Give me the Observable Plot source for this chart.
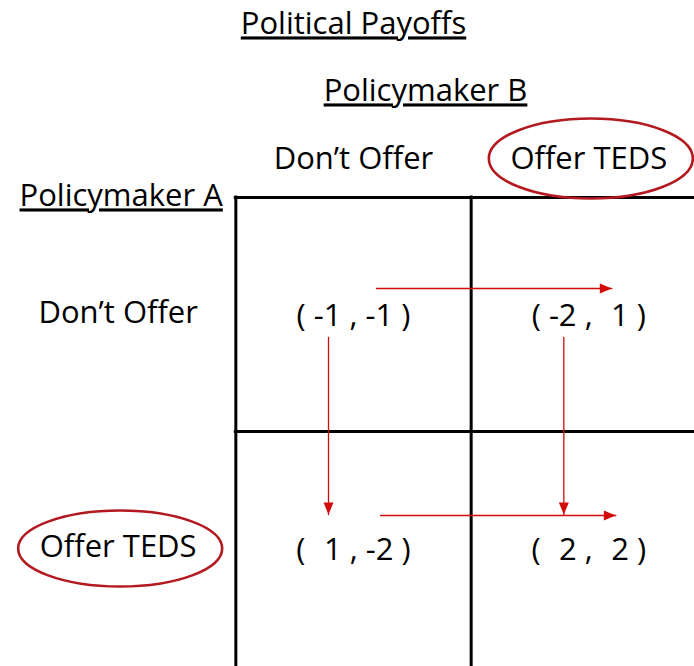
<!DOCTYPE html>
<html>
<head>
<meta charset="utf-8">
<script src="https://cdn.jsdelivr.net/npm/d3@7"></script>
<script src="https://cdn.jsdelivr.net/npm/@observablehq/plot@0.6"></script>
<style>
  html, body { margin: 0; padding: 0; background: #fff; }
</style>
</head>
<body>
<div id="chart"></div>
<script>
// ---- data ----
const title = "Political Payoffs";
const playerA = "Policymaker A";          // rows
const playerB = "Policymaker B";          // columns
const strategies = ["Don’t Offer", "Offer TEDS"];
// payoffs[row = A's strategy][col = B's strategy]
const payoffA = [[-1, -2], [1, 2]];
const payoffB = [[-1, 1], [-2, 2]];
const highlighted = ["Offer TEDS"];       // dominant strategy for both players

// ---- derived tables ----
const cells = [];
strategies.forEach((_, r) => strategies.forEach((_, c) =>
  cells.push({row: r, col: c, a: payoffA[r][c], b: payoffB[r][c]})));
const fmt = n => n < 0 ? "-" + Math.abs(n) : "\u2004" + n;

// best-response arrows: B moves horizontally within a row, A vertically within a column
const hArrows = strategies.map((_, r) => {
  const from = payoffB[r][0] < payoffB[r][1] ? 0 : 1;
  return {row: r, from, to: 1 - from};
});
const vArrows = strategies.map((_, c) => {
  const from = payoffA[0][c] < payoffA[1][c] ? 0 : 1;
  return {col: c, from, to: 1 - from};
});
const hi = highlighted.map(s => strategies.indexOf(s));

// ---- custom symbols ----
const ellipse = (rx, ry) => ({
  draw(ctx) {
    const k = 0.5522848, kx = rx * k, ky = ry * k;
    ctx.moveTo(rx, 0);
    ctx.bezierCurveTo(rx, ky, kx, ry, 0, ry);
    ctx.bezierCurveTo(-kx, ry, -rx, ky, -rx, 0);
    ctx.bezierCurveTo(-rx, -ky, -kx, -ry, 0, -ry);
    ctx.bezierCurveTo(kx, -ry, rx, -ky, rx, 0);
    ctx.closePath();
  }
});
const head = {
  draw(ctx) { ctx.moveTo(0, 0); ctx.lineTo(-12, -5); ctx.lineTo(-12, 5); ctx.closePath(); }
};

const red = "#d10a0a";
const ring = "#b3191e";
const font = "Open Sans";
const fs = 31;
const bounds = d3.range(1, strategies.length + 1);
const hDy = [-26, -33], hDx = [23, 27];

const marks = [
  // grid
  Plot.ruleX(bounds, {x: d => d, y1: 1, y2: 3.3, stroke: "black", strokeWidth: 3, strokeLinecap: "square"}),
  Plot.ruleY(bounds, {y: d => d, x1: 1, x2: 3.3, stroke: "black", strokeWidth: 3, strokeLinecap: "square"}),
  // headings
  Plot.text([title], {frameAnchor: "top", lineAnchor: "middle", dx: 6, dy: 24, text: d => d, fontSize: fs}),
  Plot.text([playerB], {frameAnchor: "top", lineAnchor: "middle", dx: 78, dy: 91, text: d => d, fontSize: fs}),
  Plot.text([playerA], {x: 0.5, y: 1, dx: 3, dy: -1, text: d => d, fontSize: fs}),
  // strategy labels
  Plot.text(strategies, {x: (d, i) => i + 1.5, y: 1, dy: -38, text: d => d, fontSize: fs}),
  Plot.text(strategies, {x: 0.5, y: (d, i) => i + 1.5, dy: -1, text: d => d, fontSize: fs}),
  // highlight rings
  Plot.dot(hi, {x: d => d + 1.5, y: 1, dx: 2, dy: -39, symbol: ellipse(102, 40), r: 5, fill: "none", stroke: ring, strokeWidth: 2.6}),
  Plot.dot(hi, {x: 0.5, y: d => d + 1.5, dx: 2, dy: 0, symbol: ellipse(102, 38), r: 5, fill: "none", stroke: ring, strokeWidth: 2.6}),
  // payoffs
  Plot.text(cells, {x: d => d.col + 1.5, y: d => d.row + 1.5, dy: 2, text: d => `( ${fmt(d.a)} , ${fmt(d.b)} )`, fontSize: fs}),
];

// horizontal arrows (one mark per row for its offset)
hArrows.forEach((a, r) => {
  marks.push(Plot.arrow([a], {x1: d => d.from + 1.5, x2: d => d.to + 1.5, y1: d => d.row + 1.5, y2: d => d.row + 1.5,
    dx: hDx[r], dy: hDy[r], headLength: 0, stroke: red, strokeWidth: 1.3}));
  marks.push(Plot.dot([a], {x: d => d.to + 1.5, y: d => d.row + 1.5, dx: hDx[r], dy: hDy[r],
    symbol: head, r: 5, fill: red, stroke: "none", rotate: 0}));
});
// vertical arrows
marks.push(Plot.arrow(vArrows, {x1: d => d.col + 1.5, x2: d => d.col + 1.5, y1: d => d.from + 1.5, y2: d => d.to + 1.5,
  dx: -25, insetStart: 23, insetEnd: 34, headLength: 0, stroke: red, strokeWidth: 1.3}));
marks.push(Plot.dot(vArrows, {x: d => d.col + 1.5, y: d => d.to + 1.5, dx: -25, dy: -34,
  symbol: head, r: 5, fill: red, stroke: "none", rotate: 90}));

const chart = Plot.plot({
  width: 694,
  height: 666,
  margin: 0,
  x: {domain: [0, 3], range: [0, 706], axis: null},
  y: {domain: [0, 3], range: [-37, 665], axis: null},
  style: {fontFamily: font, fontSize: fs + "px", color: "black", background: "white"},
  marks
});

for (const t of chart.querySelectorAll("text")) {
  if ([title, playerA, playerB].includes(t.textContent)) t.setAttribute("text-decoration", "underline");
}
document.getElementById("chart").append(chart);
</script>
</body>
</html>
